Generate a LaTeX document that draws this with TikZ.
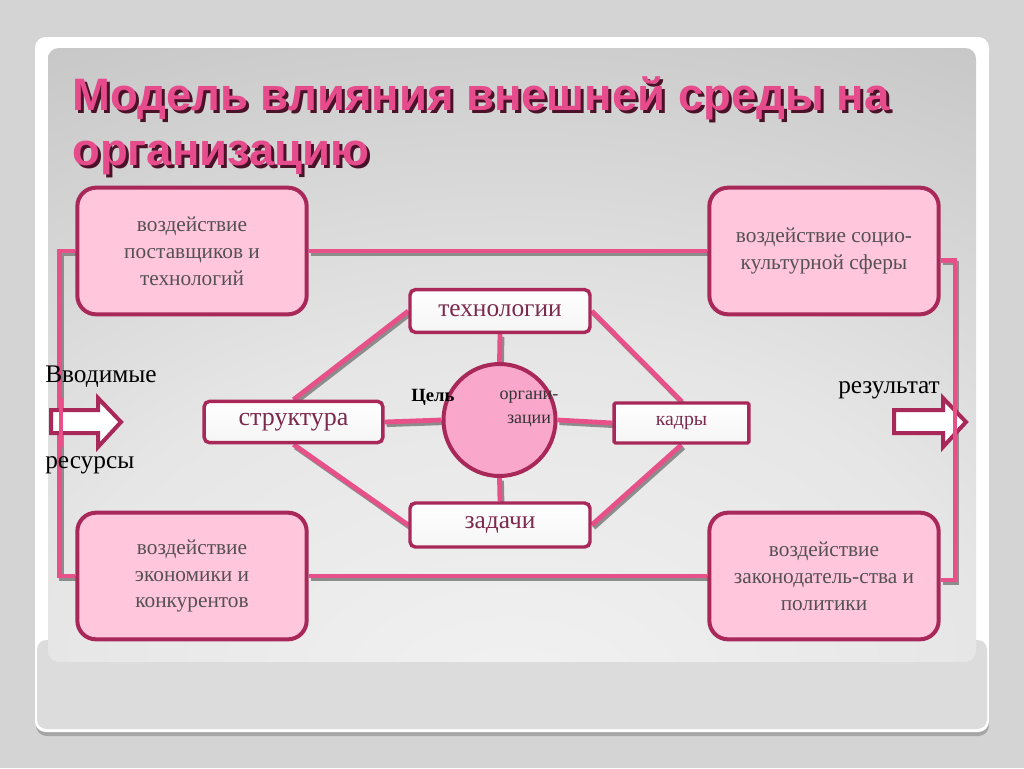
\documentclass[tikz,border=0pt]{standalone}
\usepackage{fontspec}
\setmainfont{Liberation Serif}
\newfontfamily\titlefont{Liberation Sans}
\definecolor{bgout}{HTML}{D4D4D4}
\definecolor{frameg}{HTML}{DCDCDC}
\definecolor{mag}{HTML}{A8285A}
\definecolor{linepink}{HTML}{E8508A}
\definecolor{boxpink}{HTML}{FFC6DC}
\definecolor{circpink}{HTML}{F9A8CC}
\definecolor{boxtext}{HTML}{555055}
\definecolor{lbltext}{HTML}{7B2A4E}
\definecolor{titlepink}{HTML}{E64C8C}
\definecolor{titleshadow}{HTML}{4A1228}
\definecolor{shadowgray}{HTML}{8C8C8C}
\definecolor{panA}{HTML}{F2F2F2}
\definecolor{panB}{HTML}{E6E6E6}
\definecolor{panC}{HTML}{C9C9C9}
\definecolor{panD}{HTML}{ADADAD}
\pgfdeclareradialshading{panelshade}{\pgfpoint{0bp}{-30bp}}{color(0bp)=(panA); color(25bp)=(panB); color(50bp)=(panC); color(80bp)=(panD); color(150bp)=(panD)}
\pgfdeclarelayer{back}
\pgfdeclarelayer{bg}
\pgfsetlayers{back,bg,main}
\begin{document}
\begin{tikzpicture}[x=0.75pt,y=-0.75pt,
  corner/.style={draw=mag, line width=3pt, fill=boxpink, rounded corners=14pt,
    minimum width=172pt, minimum height=95pt, align=center, text=boxtext,
    font=\fontsize{16}{20.2}\selectfont, inner sep=0pt},
  label box/.style={draw=mag, line width=2.6pt, rounded corners=4pt, inner sep=0pt,
    top color=white, bottom color=white!92!gray, text=lbltext},
  conn/.style={draw=linepink, line width=3.6pt},
  connshadow/.style={draw=shadowgray, line width=3.6pt},
  blockarrow/.style={draw=mag, fill=white, line width=3pt, line join=miter},
  plain/.style={text=black, font=\fontsize{19}{22}\selectfont, inner sep=0pt, anchor=base west},
  titletext/.style={anchor=base west, inner sep=0pt, align=left,
    font=\titlefont\bfseries\fontsize{34.1}{41.2}\selectfont}
]
\useasboundingbox (0,0) rectangle (1024,768);
\begin{pgfonlayer}{back}
  \fill[bgout] (0,0) rectangle (1024,768);
  \fill[black!35, rounded corners=8pt] (36,42) rectangle (989,736);
  \fill[white, rounded corners=8pt] (35,37) rectangle (989,732);
  \fill[frameg, rounded corners=7pt] (37,640) rectangle (987,729);
  \shade[shading=panelshade, rounded corners=8pt] (48,48) rectangle (976,662);
\end{pgfonlayer}

% title (with its dark drop shadow)
\node[titletext, text=titleshadow] (titleshadow) at (75,168)
  {Модель влияния внешней среды на\\организацию};
\node[titletext, text=titlepink] (title) at (72,165)
  {Модель влияния внешней среды на\\организацию};

% corner boxes
\node[corner] (tl) at (192,251) {воздействие\\поставщиков и\\технологий};
\node[corner] (tr) at (824,251) {воздействие социо-\\культурной сферы};
\node[corner] (bl) at (192,576) {воздействие\\экономики и\\конкурентов};
\node[corner] (br) at (824,576) {воздействие\\законодатель-ства и\\политики};

% centre
\node[label box, minimum width=135pt, minimum height=32pt,
  font=\fontsize{19}{22}\selectfont] (tech) at (500,311) {технологии};
\node[label box, minimum width=134pt, minimum height=31pt,
  font=\fontsize{19.5}{22}\selectfont] (str) at (293.5,422) {структура};
\node[label box, rounded corners=1pt, minimum width=101pt, minimum height=30pt,
  font=\fontsize{14.8}{17}\selectfont] (kad) at (681.5,423) {\raisebox{-3pt}{кадры}};
\node[label box, minimum width=135pt, minimum height=33pt,
  font=\fontsize{19}{22}\selectfont] (zad) at (500,525) {задачи};
\node[circle, draw=mag, line width=3pt, fill=circpink, minimum size=84pt, inner sep=0pt]
  (goal) at (499.5,420) {};
\node[font=\bfseries\fontsize{14}{16}\selectfont, text=black, inner sep=0pt] (cel) at (433,397) {Цель};
\node[font=\fontsize{13.5}{17.3}\selectfont, text=black!80, align=center, inner sep=0pt]
  (org) at (529,409) {органи-\\зации};

% connectors
\begin{pgfonlayer}{bg}
  \foreach \a/\b in {tech.south/goal.north, goal.south/zad.north, str.east/goal.west,
      goal.east/kad.west, tech.west/str.north, tech.east/kad.north, str.south/zad.west,
      kad.south/zad.east}{
    \draw[connshadow, transform canvas={xshift=1.5pt, yshift=-2pt}] (\a) -- (\b);
    \draw[conn] (\a) -- (\b);
  }
  \draw[connshadow, transform canvas={xshift=1.5pt, yshift=-2pt}] (tl.east) -- (tr.west);
  \draw[conn] (tl.east) -- (tr.west);
  \draw[connshadow, transform canvas={xshift=1.5pt, yshift=-2pt}] (bl.east) -- (br.west);
  \draw[conn] (bl.east) -- (br.west);
  \draw[connshadow, transform canvas={xshift=1.5pt, yshift=-2pt}] (tl.west) -- ++(-16,0) |- (bl.west);
  \draw[conn] (tl.west) -- ++(-16,0) |- (bl.west);
  \draw[connshadow, transform canvas={xshift=1.5pt, yshift=-2pt}] ([yshift=-7pt]tr.east) -| (955,580) -- ([yshift=-3pt]br.east);
  \draw[conn] ([yshift=-7pt]tr.east) -| (955,580) -- ([yshift=-3pt]br.east);
\end{pgfonlayer}

% block arrows
\draw[blockarrow] (51,410) -- (98,410) -- (98,398) -- (121,422) -- (98,447) -- (98,433) -- (51,433) -- cycle;
\draw[blockarrow] (894,410) -- (943,410) -- (943,398) -- (966,422) -- (943,447) -- (943,433) -- (894,433) -- cycle;
\draw[conn, line width=2.6pt] (61,398) -- (61,447);
\draw[conn, line width=2.6pt] (955,398) -- (955,447);

% side labels
\node[plain] (inp1) at (45,382) {Вводимые};
\node[plain] (inp2) at (45,468) {ресурсы};
\node[plain] (res) at (838,393) {результат};
\end{tikzpicture}
\end{document}
